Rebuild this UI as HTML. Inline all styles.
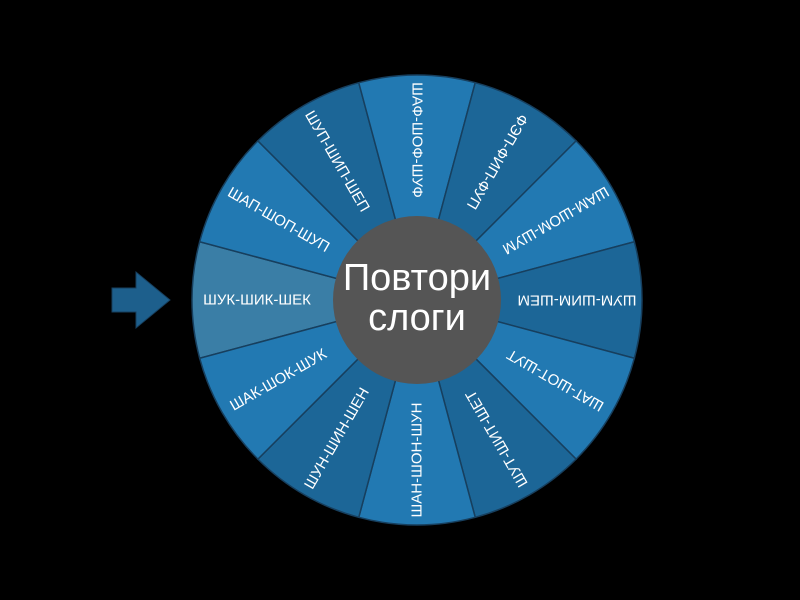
<!DOCTYPE html>
<html><head><meta charset="utf-8"><style>
html,body{margin:0;padding:0;background:#000;width:800px;height:600px;overflow:hidden}
</style></head><body>
<svg width="800" height="600" viewBox="0 0 800 600" xmlns="http://www.w3.org/2000/svg" font-family="Liberation Sans, DejaVu Sans, sans-serif">
<rect width="800" height="600" fill="#000"/>
<g id="w"></g>
<polygon points="112,288 136,288 136,272 170,300 136,328 136,312 112,312" fill="#1d5f8c" stroke="#173f5e" stroke-width="1"/>
<circle cx="417" cy="300" r="84" fill="#555555"/>
<text x="417" y="290" fill="#fff" font-size="38" text-anchor="middle">Повтори</text>
<text x="417" y="330" fill="#fff" font-size="38" text-anchor="middle">слоги</text>
</svg>
<script>
var labels=["ШУК-ШИК-ШЕК","ШАП-ШОП-ШУП","ШУП-ШИП-ШЕП","ШАФ-ШОФ-ШУФ","ФЭП-ФИП-ФУП","ШАМ-ШОМ-ШУМ","ШУМ-ШИМ-ШЕМ","ШАТ-ШОТ-ШУТ","ШУТ-ШИТ-ШЕТ","ШАН-ШОН-ШУН","ШУН-ШИН-ШЕН","ШАК-ШОК-ШУК"];
var g=document.getElementById('w'),cx=417,cy=300,R=225,h="";
for(var i=0;i<12;i++){var phi=180+30*i,a0=(phi-15)*Math.PI/180,a1=(phi+15)*Math.PI/180;
var col=i==0?"#3a7ea6":(i%2?"#2279b2":"#1c6697");
h+='<path d="M'+cx+','+cy+' L'+(cx+R*Math.cos(a0))+','+(cy+R*Math.sin(a0))+' A'+R+','+R+' 0 0 1 '+(cx+R*Math.cos(a1))+','+(cy+R*Math.sin(a1))+' Z" fill="'+col+'" stroke="#173f5e" stroke-width="1.5"/>';
var pr=phi*Math.PI/180,tx=cx+160*Math.cos(pr),ty=cy+160*Math.sin(pr);
h+='<text x="0" y="0" font-size="15" fill="#fff" text-anchor="middle" dominant-baseline="central" transform="translate('+tx+','+ty+') rotate('+(phi+180)+')">'+labels[i]+'</text>';}
g.innerHTML=h;
</script>
</body></html>
